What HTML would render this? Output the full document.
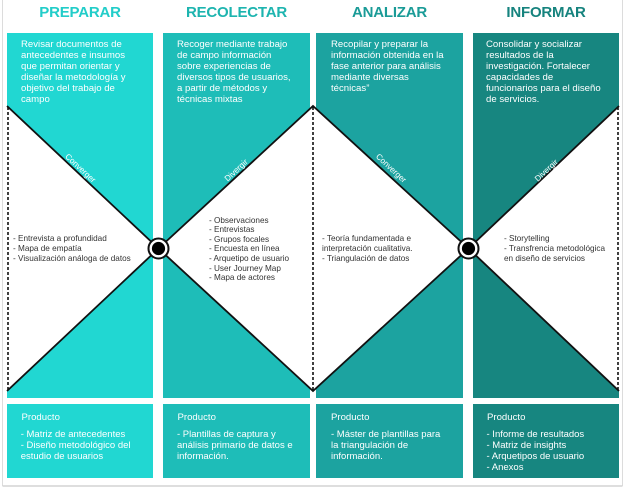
<!DOCTYPE html>
<html><head><meta charset="utf-8">
<style>
html,body{margin:0;padding:0;background:#fff;}
#wrap{position:relative;width:626px;height:488px;overflow:hidden;font-family:"Liberation Sans",Arial,sans-serif;}
svg{position:absolute;left:0;top:0;}
.t{position:absolute;white-space:nowrap;}
.h{font-weight:bold;font-size:15px;line-height:16px;top:5px;text-align:center;letter-spacing:-0.2px;}
.top{color:#fff;font-size:9.6px;line-height:11px;top:38.5px;}
.mid{color:#333;font-size:8.2px;line-height:9.65px;}
.pt{color:#fff;font-size:9.6px;line-height:11px;top:411.5px;}
.pl{color:#fff;font-size:9.5px;line-height:11px;top:428.7px;}
</style></head>
<body><div id="wrap">
<svg width="626" height="488" viewBox="0 0 626 488">
  <!-- frame -->
  <line x1="2.5" y1="0" x2="2.5" y2="486" stroke="#dcdcdc" stroke-width="1"/>
  <line x1="622.5" y1="0" x2="622.5" y2="486" stroke="#dcdcdc" stroke-width="1"/>
  <line x1="2.5" y1="486" x2="622.5" y2="486" stroke="#d4d4d4" stroke-width="1.5"/>
  <!-- columns -->
  <rect x="7" y="33" width="146" height="365" fill="#21D7D2"/>
  <rect x="163" y="33" width="147" height="365" fill="#1EBDB8"/>
  <rect x="316" y="33" width="147" height="365" fill="#1CA3A0"/>
  <rect x="473" y="33" width="146" height="365" fill="#178680"/>
  <rect x="7" y="404" width="146" height="74" fill="#21D7D2"/>
  <rect x="163" y="404" width="147" height="74" fill="#1EBDB8"/>
  <rect x="316" y="404" width="147" height="74" fill="#1CA3A0"/>
  <rect x="473" y="404" width="146" height="74" fill="#178680"/>
  <!-- white shapes -->
  <polygon points="7,106 158.5,248.5 7,391" fill="#fff"/>
  <polygon points="158.5,248.5 313,106 468.5,248.5 313,391" fill="#fff"/>
  <polygon points="619,106 468.5,248.5 619,391" fill="#fff"/>
  <!-- diagonals -->
  <g stroke="#111" stroke-width="1.8" fill="none" stroke-linejoin="miter">
    <polyline points="7,106 158.5,248.5 7,391"/>
    <polygon points="158.5,248.5 313,106 468.5,248.5 313,391"/>
    <polyline points="619,106 468.5,248.5 619,391"/>
  </g>
  <!-- dashed -->
  <g stroke="#111" stroke-width="1.6" stroke-dasharray="3 2">
    <line x1="8" y1="107" x2="8" y2="390"/>
    <line x1="313" y1="107" x2="313" y2="390"/>
    <line x1="618" y1="107" x2="618" y2="390"/>
  </g>
  <!-- circles -->
  <circle cx="158.5" cy="248.5" r="10" fill="#fff" stroke="#111" stroke-width="2"/>
  <circle cx="158.5" cy="248.5" r="6.6" fill="#000"/>
  <circle cx="468.5" cy="248.5" r="10" fill="#fff" stroke="#111" stroke-width="2"/>
  <circle cx="468.5" cy="248.5" r="6.6" fill="#000"/>
  <!-- rotated labels -->
  <g font-family="Liberation Sans, Arial, sans-serif" font-size="8.2" fill="#fff" text-anchor="middle" dominant-baseline="central">
    <text transform="translate(80.3,168.3) rotate(43)">Converger</text>
    <text transform="translate(236.3,170.3) rotate(-43)">Divergir</text>
    <text transform="translate(391,168.3) rotate(43)">Converger</text>
    <text transform="translate(546.5,170.5) rotate(-43)">Divergir</text>
  </g>
</svg>

<!-- headers -->
<div class="t h" style="left:7px;width:146px;color:#22CDC9;">PREPARAR</div>
<div class="t h" style="left:163px;width:147px;color:#1DB4AF;">RECOLECTAR</div>
<div class="t h" style="left:316px;width:147px;color:#1A9B97;">ANALIZAR</div>
<div class="t h" style="left:473px;width:146px;color:#16837E;">INFORMAR</div>

<!-- top texts -->
<div class="t top" style="left:21px;">Revisar documentos de<br>antecedentes e insumos<br>que permitan orientar y<br>diseñar la metodología y<br>objetivo del trabajo de<br>campo</div>
<div class="t top" style="left:177px;">Recoger mediante trabajo<br>de campo información<br>sobre experiencias de<br>diversos tipos de usuarios,<br>a partir de métodos y<br>técnicas mixtas</div>
<div class="t top" style="left:331px;">Recopilar y preparar la<br>información obtenida en la<br>fase anterior para análisis<br>mediante diversas<br>técnicas”</div>
<div class="t top" style="left:486px;">Consolidar y socializar<br>resultados de la<br>investigación. Fortalecer<br>capacidades de<br>funcionarios para el diseño<br>de servicios.</div>

<!-- middle lists -->
<div class="t mid" style="left:13px;top:234.2px;">- Entrevista a profundidad<br>- Mapa de empatía<br>- Visualización análoga de datos</div>
<div class="t mid" style="left:209px;top:215.5px;">- Observaciones<br>- Entrevistas<br>- Grupos focales<br>- Encuesta en línea<br>- Arquetipo de usuario<br>- User Journey Map<br>- Mapa de actores</div>
<div class="t mid" style="left:322px;top:234.2px;">- Teoría fundamentada e<br>interpretación cualitativa.<br>- Triangulación de datos</div>
<div class="t mid" style="left:504px;top:234.2px;">- Storytelling<br>- Transfrencia metodológica<br>en diseño de servicios</div>

<!-- products -->
<div class="t pt" style="left:21.5px;">Producto</div>
<div class="t pl" style="left:20.7px;">- Matriz de antecedentes<br>- Diseño metodológico del<br>estudio de usuarios</div>
<div class="t pt" style="left:177.5px;">Producto</div>
<div class="t pl" style="left:177px;">- Plantillas de captura y<br>análisis primario de datos e<br>información.</div>
<div class="t pt" style="left:331px;">Producto</div>
<div class="t pl" style="left:331px;">- Máster de plantillas para<br>la triangulación de<br>información.</div>
<div class="t pt" style="left:487px;">Producto</div>
<div class="t pl" style="left:486.5px;">- Informe de resultados<br>- Matriz de insights<br>- Arquetipos de usuario<br>- Anexos</div>
</div></body></html>
